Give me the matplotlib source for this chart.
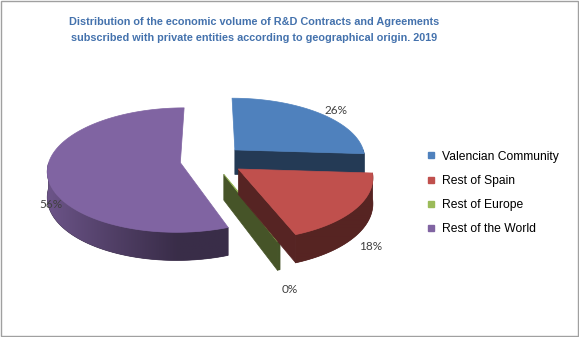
import matplotlib
matplotlib.use('Agg')
import matplotlib.pyplot as plt
from matplotlib.patches import Polygon, Rectangle
from matplotlib.lines import Line2D
import numpy as np

categories = ['Valencian Community', 'Rest of Spain', 'Rest of Europe', 'Rest of the World']
shares = [26.0, 18.0, 0.3, 55.7]
colors = ['#4f81bd', '#c0504d', '#9bbb59', '#8064a2']

title = ('Distribution of the economic volume of R&D Contracts and Agreements\n'
         'subscribed with private entities according to geographical origin. 2019')

# pie geometry (pixel units, y grows downwards)
CX, CY = 212, 160      # pie centre before explosion
R = 131                # radius in plan
K = 0.47               # vertical squash of the tilted disc
P = 0.12               # perspective: front bigger than back
H = 25                 # thickness
EXPLODE = 32           # distance every slice is pulled out
LIGHT = -180           # direction the side light comes from (deg)
label_r = [1.15, 1.12, 1.22, 1.0]
label_nudge = [(6, 3), (0, 5), (-2, 2), (4, 5)]


def proj(X, Y, Z=0.0):
    s = 1 - P * Y / R
    return CX + X * s, CY + (-Y * K - Z) * s


def shade(hex_color, f):
    rgb = np.array(matplotlib.colors.to_rgb(hex_color))
    return tuple(np.clip(rgb * f, 0, 1))


def light(theta):
    return 0.45 + 0.42 * np.maximum(0.0, np.cos(theta - np.radians(LIGHT)))


fig = plt.figure(figsize=(5.79, 3.37), dpi=100)
ax = fig.add_axes([0, 0, 1, 1])
ax.set_xlim(0, 579)
ax.set_ylim(337, 0)
ax.axis('off')

total = sum(shares)
starts = 90 - 360 * np.cumsum([0] + shares[:-1]) / total
ends = starts - 360 * np.array(shares) / total


def poly(pts, color, z):
    p = Polygon(pts, closed=True, facecolor=color, edgecolor=color,
                linewidth=0.5, joinstyle='round', zorder=z)
    ax.add_patch(p)
    return p


order = [0, 3, 2, 1]   # back to front
for z, i in enumerate(order):
    t1, t2 = starts[i], ends[i]
    mid = np.radians((t1 + t2) / 2)
    ox, oy = EXPLODE * np.cos(mid), EXPLODE * np.sin(mid)
    base = colors[i]
    zb = 10 * z

    def plan(theta):
        return ox + R * np.cos(theta), oy + R * np.sin(theta)

    # radial walls
    for ang, normal in ((t1, t1 + 90), (t2, t2 - 90)):
        if np.sin(np.radians(normal)) < -1e-6:
            bx, by = plan(np.radians(ang))
            pts = [proj(ox, oy, 0), proj(bx, by, 0), proj(bx, by, -H), proj(ox, oy, -H)]
            poly(pts, shade(base, 0.45), zb + 1)

    # outer wall on the front half, shaded by a gradient clipped to its outline
    th = np.radians(np.linspace(t1, t2, 300))
    front = th[np.sin(th) < 0]
    if len(front) > 1:
        upper = [proj(*plan(t), 0) for t in front]
        lower = [proj(*plan(t), -H) for t in front[::-1]]
        wall = poly(upper + lower, shade(base, 0.45), zb + 2)
        xs = np.array([p[0] for p in upper])
        fs = light(front)
        sort = np.argsort(xs)
        grid = np.linspace(xs.min(), xs.max(), 400)
        fg = np.interp(grid, xs[sort], fs[sort])
        rgb = np.array(matplotlib.colors.to_rgb(base))
        img = np.clip(fg[None, :, None] * rgb[None, None, :], 0, 1)
        ys = [p[1] for p in upper + lower]
        im = ax.imshow(img, extent=(xs.min() - 1, xs.max() + 1, max(ys) + 1, min(ys) - 1),
                       aspect='auto', interpolation='bilinear', zorder=zb + 2.5)
        im.set_clip_path(wall)

    # top face
    top = [proj(ox, oy, 0)] + [proj(*plan(t)) for t in th]
    poly(top, base, zb + 3)

    # percentage label
    lx, ly = proj(ox + R * label_r[i] * np.cos(mid), oy + R * label_r[i] * np.sin(mid),
                  -H if np.sin(mid) < 0 else 0)
    dx, dy = label_nudge[i]
    ax.text(lx + dx, ly + dy, f'{round(shares[i] / total * 100):.0f}%', ha='center', va='center',
            fontsize=8.5, family='Lato', color='#404040', zorder=100)

ax.set_xlim(0, 579)
ax.set_ylim(337, 0)

fig.text(254 / 579, 1 - 30 / 337, title, ha='center', va='center', fontsize=7.8,
         fontweight='bold', color='#4472ad', family='Liberation Sans', linespacing=1.7)

handles = [Line2D([], [], marker='s', linestyle='none', markersize=5,
                  markerfacecolor=c, markeredgecolor=c) for c in colors]
leg = fig.legend(handles, categories, loc='center left', bbox_to_anchor=(421 / 579, 1 - 193 / 337),
                 frameon=False, prop={'family': 'Liberation Sans', 'size': 8.7},
                 handlelength=0.8, handletextpad=0.5, labelspacing=1.02, borderaxespad=0)

fig.patches.append(Rectangle((0.5 / 579, 1.5 / 337), 577 / 579, 335 / 337, transform=fig.transFigure,
                             fill=False, edgecolor='#a0a0a0', linewidth=1))

fig.savefig('out.png', dpi=100, facecolor='white')
